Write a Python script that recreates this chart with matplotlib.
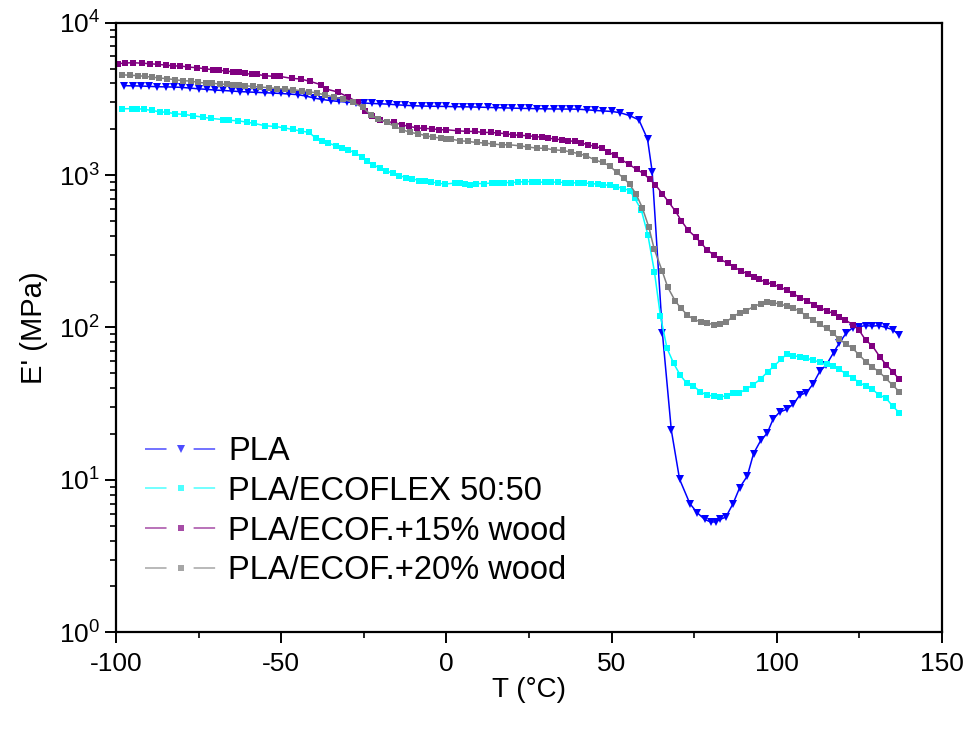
import numpy as np
import matplotlib
matplotlib.use('Agg')
import matplotlib.pyplot as plt
from matplotlib.lines import Line2D
from matplotlib.ticker import LogLocator, FixedLocator, NullFormatter

plt.rcParams['font.family'] = ['Liberation Sans', 'DejaVu Sans']
plt.rcParams['mathtext.default'] = 'regular'
plt.rcParams['axes.unicode_minus'] = False

# PLA
pla_T = [-97.5, -95, -92.5, -90, -87.5, -85, -82.5, -80, -77.5, -75, -72.5, -70,
         -67.5, -65, -62.5, -60, -57.5, -55, -52.5, -50, -47.5, -45, -42.5, -40,
         -37.5, -35, -32.5, -30, -27.5, -25, -22.5, -20, -17.5, -15, -12.5, -10,
         -7.5, -5, -2.5, 0, 2.5, 5, 7.5, 10, 12.5, 15, 17.5, 20, 22.5, 25, 27.5,
         30, 32.5, 35, 37.5, 40, 42.5, 45, 47.5, 50, 52.5, 55.6, 58.3, 60.9, 62.3,
         65.4, 68.1, 70.6, 73.7, 75.9, 78.2, 80.0, 81.5, 82.8, 84.6, 86.8, 88.8,
         91.1, 93.0, 95.2, 97.1, 98.9, 100.9, 103.0, 105.0, 107.0, 109.0, 111.0,
         113.1, 115.0, 117.2, 119.0, 121.0, 123.0, 124.9, 126.9, 128.9, 131.0,
         133.0, 135.1, 137.1]
pla_E = [3860, 3850, 3840, 3820, 3800, 3790, 3780, 3760, 3720, 3680, 3650, 3610,
         3590, 3560, 3530, 3510, 3490, 3470, 3450, 3430, 3400, 3370, 3300, 3200,
         3130, 3080, 3040, 3010, 2990, 2970, 2950, 2935, 2920, 2890, 2870, 2850,
         2840, 2830, 2825, 2820, 2810, 2805, 2800, 2790, 2780, 2770, 2760, 2750,
         2740, 2735, 2725, 2720, 2715, 2712, 2710, 2705, 2680, 2655, 2635, 2615,
         2570, 2450, 2300, 1720, 1055, 92, 21.2, 10.1, 7.0, 6.1, 5.5, 5.3, 5.3,
         5.5, 5.7, 7.0, 8.9, 10.6, 14.9, 18.2, 20.2, 25.0, 27.9, 29.0, 31.4, 36.0,
         37.3, 42.6, 51.8, 56.7, 68.3, 79.5, 91.6, 99.7, 101, 103, 102, 103, 100,
         97, 89]

# PLA/ECOFLEX 50:50
eco_T = [-98.3, -95.3, -93.8, -91.5, -89.2, -86.7, -84.5, -82.1, -79.4, -76.6,
         -73.8, -71.4, -67.7, -65.9, -63.0, -60.5, -58.1, -54.8, -51.8, -49.2,
         -46.5, -43.9, -41.5, -39.6, -37.7, -35.7, -33.5, -31.5, -29.7, -27.6,
         -25.6, -24.1, -22.1, -20.1, -18.3, -16.2, -14.2, -12.2, -10.4, -8.4,
         -6.6, -4.6, -2.5, -0.5, 2.6, 4.1, 5.6, 7.1, 9.1, 11.4, 13.7, 15.7, 17.4,
         19.7, 21.7, 23.8, 25.8, 27.8, 29.8, 31.8, 33.8, 35.8, 37.8, 39.8, 41.8,
         43.8, 45.8, 47.5, 49.5, 51.5, 53.5, 55.5, 57.0, 59.0, 61.0, 63.0, 64.8,
         66.8, 68.8, 70.8, 72.8, 74.8, 76.9, 78.8, 80.9, 82.8, 84.9, 86.9, 88.6,
         90.6, 92.8, 95.2, 97.3, 99.3, 101.3, 103.0, 105.0, 107.0, 109.0, 111.0,
         113.1, 115.1, 116.9, 119.0, 121.0, 123.0, 125.0, 127.0, 129.0, 131.0,
         133.0, 135.1, 137.1]
eco_E = [2720, 2730, 2730, 2700, 2655, 2600, 2580, 2525, 2500, 2450, 2400, 2355,
         2315, 2290, 2270, 2227, 2180, 2106, 2084, 2043, 1991, 1944, 1904, 1750,
         1680, 1622, 1557, 1503, 1465, 1394, 1320, 1240, 1167, 1111, 1067, 1030,
         989, 964, 949, 920, 912, 899, 886, 873, 886, 893, 873, 863, 880, 880,
         886, 893, 893, 893, 899, 907, 907, 899, 899, 899, 899, 893, 893, 886,
         886, 880, 873, 865, 855, 840, 816, 792, 706, 591, 405, 231, 119, 73,
         58.2, 48.7, 43.0, 41.3, 37.9, 36.0, 35.5, 35.2, 35.5, 37.3, 37.0, 39.4,
         41.9, 46.1, 51.3, 56.1, 61.8, 66.7, 65.3, 64.3, 62.8, 61.2, 59.1, 57.3,
         55.9, 53.1, 49.5, 46.8, 43.4, 41.3, 39.3, 36.0, 34.6, 30.5, 27.6]

# PLA/ECOF.+15% wood
w15_T = [-99.3, -97.3, -94.9, -92.2, -89.7, -87.2, -84.9, -82.7, -80.6, -78.1,
         -75.4, -73.1, -70.6, -68.8, -66.7, -64.5, -62.9, -60.9, -58.9, -57.2,
         -54.9, -52.2, -50.4, -46.8, -44.1, -41.3, -38.0, -36.4, -32.9, -29.7,
         -26.7, -24.7, -22.4, -20.1, -18.1, -15.9, -13.5, -11.2, -9.0, -6.8,
         -4.5, -2.2, 0.0, 3.6, 6.1, 8.6, 11.1, 13.4, 15.7, 18.0, 20.2, 22.4,
         24.7, 26.7, 28.8, 30.8, 32.8, 34.9, 36.9, 38.9, 40.9, 42.9, 44.9, 47.0,
         49.0, 51.0, 53.0, 55.2, 57.6, 59.7, 61.5, 63.3, 65.4, 67.4, 69.4, 71.1,
         73.1, 75.5, 77.2, 78.9, 81.0, 82.9, 85.2, 87.0, 89.1, 91.3, 93.0, 94.6,
         96.9, 98.9, 101.0, 103.0, 105.0, 107.2, 109.2, 111.2, 113.2, 115.2,
         117.2, 119.0, 120.8, 123.1, 124.9, 126.9, 129.0, 131.2, 133.2, 135.1,
         137.1]
w15_E = [5380, 5435, 5460, 5420, 5380, 5320, 5270, 5200, 5200, 5115, 5060, 4985,
         4910, 4865, 4820, 4745, 4745, 4645, 4580, 4570, 4490, 4440, 4440, 4310,
         4270, 4120, 3920, 3670, 3510, 3250, 2997, 2615, 2450, 2306, 2238, 2215,
         2138, 2084, 2043, 2022, 2015, 1983, 1983, 1953, 1934, 1934, 1904, 1904,
         1888, 1867, 1838, 1820, 1815, 1790, 1774, 1749, 1722, 1706, 1680, 1662,
         1622, 1581, 1542, 1504, 1420, 1345, 1260, 1180, 1090, 1025, 940, 863,
         753, 661, 577, 503, 437, 391, 357, 323, 299, 280, 264, 251, 235, 225,
         216, 207, 198, 192, 184, 176, 166, 157, 150, 141, 135, 128, 124, 118,
         112, 104, 96.3, 82.8, 75.6, 64.3, 56.7, 51.3, 45.7]

# PLA/ECOF.+20% wood
w20_T = [-98.3, -95.8, -93.5, -91.2, -89.2, -86.9, -84.5, -82.2, -79.8, -77.4,
         -75.1, -72.8, -70.8, -68.6, -66.5, -64.5, -62.9, -60.9, -58.5, -56.4,
         -53.6, -51.4, -48.9, -46.4, -43.8, -41.5, -39.3, -36.8, -34.1, -31.2,
         -28.4, -25.3, -22.9, -20.6, -18.1, -15.6, -13.3, -10.9, -8.5, -6.2,
         -4.0, -1.7, 0.0, 1.5, 4.1, 6.6, 9.2, 11.7, 14.2, 16.7, 19.0, 22.2, 24.8,
         27.3, 29.8, 32.6, 35.2, 37.6, 40.2, 42.4, 44.9, 47.3, 49.4, 51.6, 53.7,
         55.5, 57.4, 59.3, 61.3, 62.9, 65.3, 67.0, 69.3, 71.0, 72.9, 74.9, 77.0,
         79.0, 81.0, 82.9, 84.7, 86.7, 88.8, 90.8, 93.0, 95.1, 97.1, 98.9, 101.0,
         103.0, 105.0, 107.0, 109.0, 111.0, 113.1, 115.1, 117.1, 118.9, 121.0,
         123.0, 125.0, 127.0, 129.0, 131.0, 133.0, 135.1, 137.1]
w20_E = [4560, 4510, 4500, 4440, 4395, 4335, 4290, 4225, 4160, 4140, 4055, 4015,
         4010, 3955, 3940, 3875, 3875, 3855, 3815, 3780, 3745, 3690, 3670, 3630,
         3575, 3525, 3455, 3365, 3250, 3155, 2997, 2780, 2487, 2330, 2215, 2084,
         1983, 1904, 1867, 1812, 1774, 1749, 1730, 1720, 1680, 1662, 1636, 1622,
         1597, 1581, 1581, 1557, 1527, 1504, 1497, 1465, 1450, 1421, 1379, 1337,
         1259, 1210, 1151, 1040, 955, 868, 753, 612, 455, 328, 236, 184, 149, 134,
         121, 113, 109, 107, 104, 105, 109, 117, 125, 129, 137, 143, 148, 145,
         143, 138, 134, 128, 119, 112, 105, 98.8, 91.6, 83.7, 78, 73, 65.9, 59.6,
         54.8, 51.3, 46.4, 41.9, 37.9]

labels = ['PLA', 'PLA/ECOFLEX 50:50', 'PLA/ECOF.+15% wood', 'PLA/ECOF.+20% wood']
colors = ['#0000FF', '#00FFFF', '#800080', '#808080']
markers = ['v', 's', 's', 's']
msizes = [6, 4.3, 4.3, 4.3]

fig = plt.figure(figsize=(9.67, 7.31), dpi=100)
ax = fig.add_axes([0.120, 0.135, 0.854, 0.834])

series = [(pla_T, pla_E), (eco_T, eco_E), (w15_T, w15_E), (w20_T, w20_E)]
for (t, e), c, m, ms in zip(series, colors, markers, msizes):
    ax.plot(t, e, color=c, lw=1.1, marker=m, ms=ms, mew=0)

ax.set_yscale('log')
ax.set_xlim(-100, 150)
ax.set_ylim(1, 1e4)
ax.xaxis.set_major_locator(FixedLocator([-100, -50, 0, 50, 100, 150]))
ax.xaxis.set_minor_locator(FixedLocator([-75, -25, 25, 75, 125]))
ax.yaxis.set_major_locator(LogLocator(base=10, numticks=10))
ax.yaxis.set_minor_locator(LogLocator(base=10, subs=np.arange(2, 10), numticks=10))
ax.yaxis.set_minor_formatter(NullFormatter())

for s in ax.spines.values():
    s.set_linewidth(1.6)
ax.tick_params(which='major', direction='out', length=8, width=1.4, labelsize=19)
ax.tick_params(which='minor', direction='out', length=4.5, width=1.2)
ax.tick_params(top=False, right=False, which='both')
ax.tick_params(axis='x', pad=6)

ax.set_xlabel('T (°C)', fontsize=20, labelpad=1)
ax.set_ylabel("E' (MPa)", fontsize=21, labelpad=8)

# legend handles: line - marker - line, with gaps around the marker
lw = 1.1
handles = [Line2D([], [], color=c, alpha=0.7, lw=lw, ls=(0, (15.5 / lw, 19.5 / lw)),
                  marker=m, ms=ms, mew=0, markerfacecolor=c, markeredgecolor=c)
           for c, m, ms in zip(colors, markers, msizes)]
ax.legend(handles, labels, loc='upper left', bbox_to_anchor=(0.035, 0.322),
          frameon=False, fontsize=23.5, handlelength=2.2, handletextpad=0.35,
          labelspacing=0.27, borderaxespad=0, borderpad=0)

fig.savefig('out.png', dpi=100)
